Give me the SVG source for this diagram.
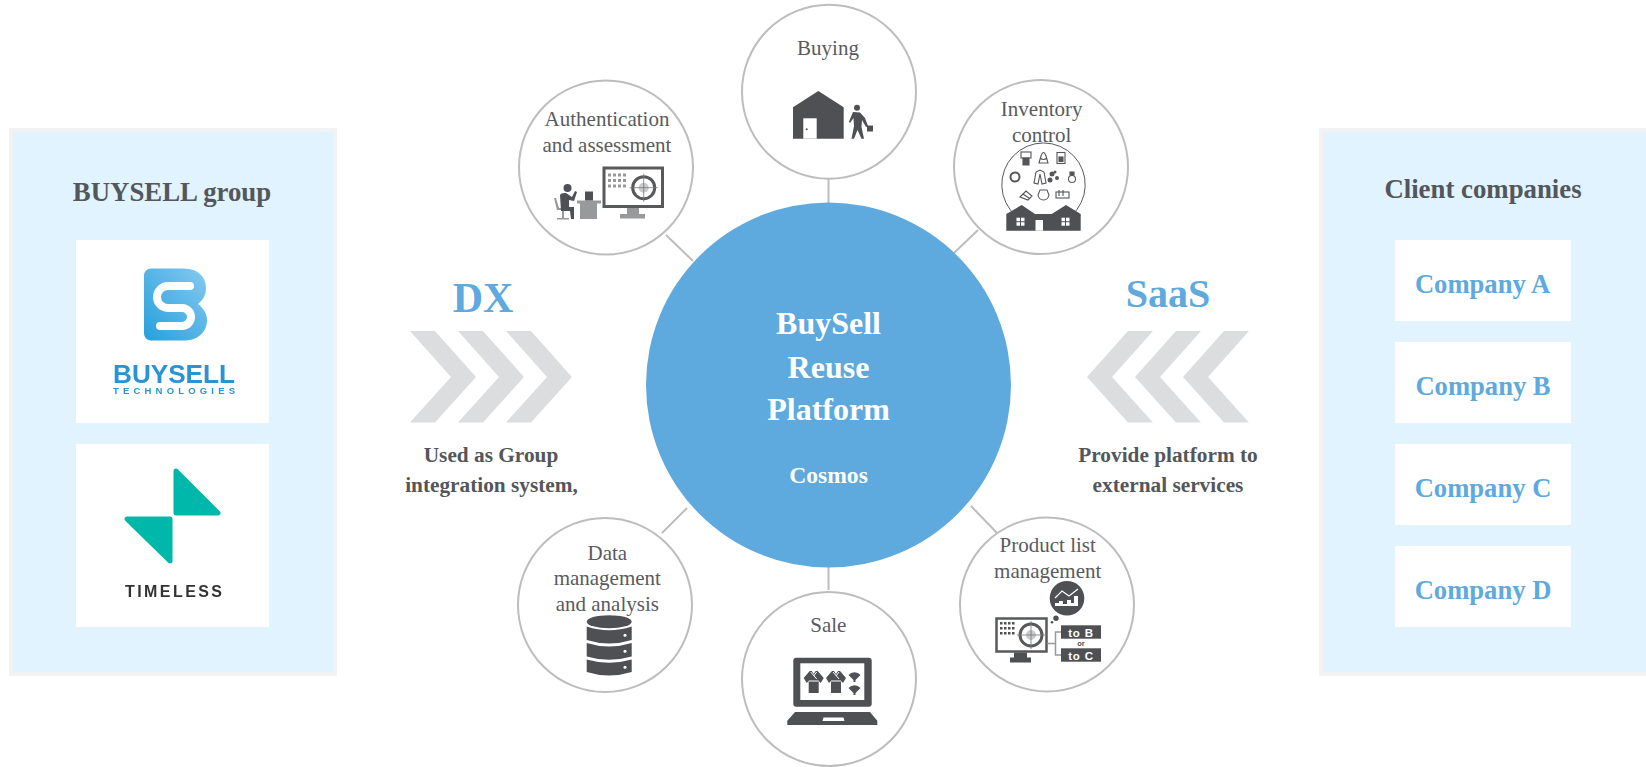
<svg xmlns="http://www.w3.org/2000/svg" xmlns:xlink="http://www.w3.org/1999/xlink" width="1646" height="767" viewBox="0 0 1646 767">
<style>
text{font-family:"Liberation Serif","Times New Roman",serif;text-anchor:middle}
.panel{fill:#e0f3fe;stroke:#f2f2f2;stroke-width:4}
.box{fill:#fff}
.ttl{font-size:26.800px;font-weight:700;fill:#53565a}
.co{font-size:26.600px;font-weight:700;fill:#5ea9de}
.big{font-weight:700;fill:#5ea9de}
.sub{font-size:21.300px;font-weight:700;fill:#53565a}
.lbl{font-size:21px;fill:#585b60}
.hub{font-weight:700;fill:#fff}
.node{fill:#fff;stroke:#bdbdbd;stroke-width:2}
.con{stroke:#bdbdbd;stroke-width:2;fill:none}
.chev{fill:#dcddde}
.ic{fill:#4f5053}
.gy{fill:#98999b}
.ol{fill:none;stroke:#55565a;stroke-width:1.100}
.sans{font-family:"Liberation Sans",Arial,sans-serif;font-weight:700}
</style>
<defs>
<filter id="soft" x="-5%" y="-5%" width="110%" height="110%"><feGaussianBlur stdDeviation="0.500"/></filter>
<linearGradient id="bs" x1="0" y1="1" x2="1" y2="0"><stop offset="0" stop-color="#25a0dc"/><stop offset="1" stop-color="#86c9f0"/></linearGradient>
<polygon id="ch" class="chev" points="0,0 25,0 66,46 25,91.500 0,91.500 41,46"/>
<g id="kimono"><path class="ic" d="M-4 0 L-2 0 L0 3 L2 0 L4 0 L10 7 L7 12 L5 10 L5 22 L-5 22 L-5 10 L-7 12 L-10 7Z"/><path d="M-5 10 H5 M-3 1 L3 8 M3 1 L0 5" stroke="#fff" stroke-width="1" fill="none"/></g>
<g id="fan"><path class="ic" d="M-6 -1 A8 8 0 0 1 6 -1 L1 4 V6 H-1 V4Z"/></g>
<g id="cross"><circle r="11" fill="#fff" stroke="#58595b" stroke-width="3"/><circle r="5" fill="#c9cacc"/><path d="M-14 0H14M0 -14V14" stroke="#777" stroke-width="0.800"/></g>
<g id="win"><rect x="-4" y="-4" width="3.500" height="3.500" fill="#fff"/><rect x="0.500" y="-4" width="3.500" height="3.500" fill="#fff"/><rect x="-4" y="0.500" width="3.500" height="3.500" fill="#fff"/><rect x="0.500" y="0.500" width="3.500" height="3.500" fill="#fff"/></g>
</defs>

<g id="connectors">
<path class="con" d="M828.500 179V203"/>
<path class="con" d="M666 235L693 261"/>
<path class="con" d="M978 230L954 253"/>
<path class="con" d="M971 506L997 533"/>
<path class="con" d="M662 533L687 508"/>
<path class="con" d="M828.500 566V590"/>
</g>

<g id="group-panel">
<rect class="panel" x="11" y="130" width="324" height="544"/>
<text class="ttl" x="172" y="200.500">BUYSELL group</text>
<rect class="box" x="76" y="240" width="193" height="183"/>
<g filter="url(#soft)">
<path fill="url(#bs)" d="M151 268.500H184C198 268.500 206 277 206 288C206 296 202 301 198 304C203 308 207 313 207 320C207 332 198 340.500 184 340.500H151A7 7 0 0 1 144 333.500V275.500A7 7 0 0 1 151 268.500Z"/>
<path d="M190 286H168A11 11 0 0 0 168 308H182A9 9 0 0 1 182 326H160" fill="none" stroke="#fff" stroke-width="8" stroke-linecap="round"/>
<text class="sans" x="174" y="382.500" font-size="25.500" fill="#2a93d5" textLength="122" lengthAdjust="spacingAndGlyphs">BUYSELL</text>
<text class="sans" x="174" y="393.500" font-size="9.500" fill="#2a93d5" textLength="122">TECHNOLOGIES</text>
</g>
<rect class="box" x="76" y="444" width="193" height="183"/>
<g filter="url(#soft)">
<path fill="#00b8a9" stroke="#00b8a9" stroke-width="5" stroke-linejoin="round" d="M176 471L218 513H176Z"/>
<path fill="#00b8a9" stroke="#00b8a9" stroke-width="5" stroke-linejoin="round" d="M127 519H170V561Z"/>
<text class="sans" x="173.500" y="596.500" font-size="16" fill="#333" textLength="97">TIMELESS</text>
</g>
</g>

<g id="client-panel">
<rect class="panel" x="1321" y="130" width="329" height="544"/>
<text class="ttl" x="1483" y="198.300">Client companies</text>
<rect class="box" x="1395" y="240" width="176" height="81"/>
<text class="co" x="1482.500" y="293.300">Company A</text>
<rect class="box" x="1395" y="342" width="176" height="81"/>
<text class="co" x="1483" y="395">Company B</text>
<rect class="box" x="1395" y="444" width="176" height="81"/>
<text class="co" x="1483" y="497">Company C</text>
<rect class="box" x="1395" y="546" width="176" height="81"/>
<text class="co" x="1483" y="599">Company D</text>
</g>

<g id="dx">
<text class="big" x="483" y="312.300" font-size="42">DX</text>
<use xlink:href="#ch" href="#ch" x="410" y="331"/>
<use xlink:href="#ch" href="#ch" x="458" y="331"/>
<use xlink:href="#ch" href="#ch" x="506" y="331"/>
<text class="sub" x="491" y="461.700">Used as Group</text>
<text class="sub" x="491.500" y="492.300">integration system,</text>
</g>

<g id="saas">
<text class="big" x="1168" y="307" font-size="40">SaaS</text>
<g transform="translate(2336,0) scale(-1,1)">
<use xlink:href="#ch" href="#ch" x="1087" y="331"/>
<use xlink:href="#ch" href="#ch" x="1135" y="331"/>
<use xlink:href="#ch" href="#ch" x="1183" y="331"/>
</g>
<text class="sub" x="1168" y="461.700">Provide platform to</text>
<text class="sub" x="1168" y="492.300">external services</text>
</g>

<g id="hub">
<circle cx="828.500" cy="385" r="182.500" fill="#5ea9de"/>
<text class="hub" x="828.500" y="334" font-size="32">BuySell</text>
<text class="hub" x="828.500" y="377.500" font-size="32">Reuse</text>
<text class="hub" x="828.500" y="420" font-size="32">Platform</text>
<text class="hub" x="828.500" y="483" font-size="23.600">Cosmos</text>
</g>

<g id="node-buying">
<circle class="node" cx="829" cy="91.700" r="87"/>
<text class="lbl" x="828" y="55">Buying</text>
<path class="ic" d="M793 107.300L818.300 91L843.700 107.300V138.700H793Z"/>
<rect x="803.300" y="118.300" width="13.400" height="20.400" fill="#fff"/>
<circle cx="806.700" cy="129.300" r="1" class="ic"/>
<circle cx="857" cy="107.700" r="3" class="ic"/>
<path class="ic" d="M853 112L860 112.500L865 118L868 126L866 127L862 120L861.500 127L864 138.700H861.500L857.500 130L854 138.700H851.500L854 126L853.500 118L850 123L849 121.500Z"/>
<rect class="ic" x="867" y="125.500" width="6" height="6"/>
</g>

<g id="node-auth">
<circle class="node" cx="606" cy="167.500" r="87"/>
<text class="lbl" x="607" y="126">Authentication</text>
<text class="lbl" x="607" y="151.700">and assessment</text>
<rect x="604" y="168" width="58.500" height="38.500" fill="#fff" stroke="#58595b" stroke-width="3"/>
<g class="gy">
<rect x="608" y="173.500" width="3" height="3"/><rect x="613" y="173.500" width="3" height="3"/><rect x="618" y="173.500" width="3" height="3"/><rect x="623" y="173.500" width="3" height="3"/>
<rect x="608" y="179" width="3" height="3"/><rect x="613" y="179" width="3" height="3"/><rect x="618" y="179" width="3" height="3"/><rect x="623" y="179" width="3" height="3"/>
<rect x="608" y="184.500" width="3" height="3"/><rect x="613" y="184.500" width="3" height="3"/><rect x="618" y="184.500" width="3" height="3"/><rect x="623" y="184.500" width="3" height="3"/>
<path d="M627 208H639V214H645V218.500H620V214H627Z"/>
<rect x="577" y="200.500" width="24" height="3"/>
<rect x="580" y="203" width="17" height="16"/>
<path d="M554 198L556 198L559 208H570V210H564V218H569V219.500H557V218H562V210H557Z"/>
</g>
<use xlink:href="#cross" href="#cross" x="643.700" y="187.700"/>
<rect class="ic" x="585" y="191.500" width="8" height="9"/>
<circle class="ic" cx="567.500" cy="188" r="4"/>
<path class="ic" d="M560 195Q561 192.500 566 193L572 197L575 191L577 192L574 201L569 200L569 207H574L574 219H571L570 211H561Z"/>
</g>

<g id="node-inventory">
<circle class="node" cx="1041" cy="167" r="87"/>
<text class="lbl" x="1041.700" y="116">Inventory</text>
<text class="lbl" x="1041.700" y="141.700">control</text>
<path d="M1016 216A41.700 41.700 0 1 1 1071 216" fill="none" stroke="#58595b" stroke-width="1"/>
<g class="ol">
<rect x="1021" y="152" width="10" height="6"/><path d="M1023 158H1029V165H1023Z" fill="#55565a"/>
<path d="M1039 163L1041 156Q1043.500 149 1046 156L1048 163Z"/><path d="M1040 158Q1043.500 161 1047 158"/>
<rect x="1057" y="152.500" width="8" height="11"/><rect x="1059" y="157" width="4" height="4.500" fill="#55565a"/>
<circle cx="1015" cy="177" r="4.500" stroke-width="2"/>
<path d="M1034 183L1036 172L1040 170L1044 172L1046 183L1042 184L1040 174L1038 184Z"/>
<circle cx="1072" cy="179" r="3.500"/><rect x="1070" y="172" width="4" height="3" fill="#55565a"/>
<path d="M1020 197L1026 191L1032 196L1028 200ZM1023 194L1029 198"/>
<path d="M1040 190H1047L1049 195Q1048 200 1043.500 200Q1039 200 1038 195Z"/>
<rect x="1056" y="192" width="13" height="6"/><path d="M1059 190V196M1063 190V196"/>
</g>
<g fill="#55565a"><circle cx="1052" cy="174" r="2.500"/><circle cx="1057" cy="178" r="2"/><circle cx="1050" cy="180" r="2.500"/><circle cx="1055" cy="172" r="1.500"/></g>
<path class="ic" d="M1006.300 214L1021.700 205L1035 214H1051.700L1066 205L1080.700 214V230.700H1006.300Z"/>
<use xlink:href="#win" href="#win" x="1020.500" y="221.700"/>
<use xlink:href="#win" href="#win" x="1065.500" y="221.700"/>
<rect x="1035.500" y="220" width="7.500" height="10.700" fill="#fff"/>
</g>

<g id="node-product">
<circle class="node" cx="1047" cy="604.500" r="87"/>
<text class="lbl" x="1047.700" y="552.300">Product list</text>
<text class="lbl" x="1047.700" y="578.300">management</text>
<circle class="ic" cx="1067" cy="598.300" r="17.300"/>
<path d="M1055 598L1062 591L1069 596L1078 589" fill="none" stroke="#fff" stroke-width="1.200"/>
<path d="M1055 606V603H1059V601H1063V604H1067V600H1071V603H1074V596H1078V606Z" fill="#fff"/>
<circle class="ic" cx="1056" cy="618.300" r="2.700"/>
<circle class="ic" cx="1052" cy="622.300" r="1.300"/>
<rect x="996.500" y="618.500" width="50" height="33" fill="#fff" stroke="#58595b" stroke-width="2.500"/>
<g class="ic">
<rect x="1000" y="622" width="2.500" height="2.500"/><rect x="1004" y="622" width="2.500" height="2.500"/><rect x="1008" y="622" width="2.500" height="2.500"/><rect x="1012" y="622" width="2.500" height="2.500"/>
<rect x="1000" y="627" width="2.500" height="2.500"/><rect x="1004" y="627" width="2.500" height="2.500"/><rect x="1008" y="627" width="2.500" height="2.500"/><rect x="1012" y="627" width="2.500" height="2.500"/>
<rect x="1000" y="632" width="2.500" height="2.500"/><rect x="1004" y="632" width="2.500" height="2.500"/><rect x="1008" y="632" width="2.500" height="2.500"/><rect x="1012" y="632" width="2.500" height="2.500"/>
<path d="M1014 652.500H1027V657.500H1031V662.500H1010V657.500H1014Z"/>
</g>
<use xlink:href="#cross" href="#cross" x="1031" y="635"/>
<path d="M1047.500 643.500H1055.500M1061 632H1055.500V655H1061" fill="none" stroke="#98999b" stroke-width="1.500"/>
<rect class="ic" x="1061" y="625.300" width="40" height="13.400"/>
<rect class="ic" x="1061" y="648.300" width="40" height="13.400"/>
<text class="sans" x="1081" y="636.500" font-size="11.500" fill="#fff" letter-spacing="0.800">to B</text>
<text class="sans" x="1081" y="646.200" font-size="7.500" fill="#4f5053">or</text>
<text class="sans" x="1081" y="659.500" font-size="11.500" fill="#fff" letter-spacing="0.800">to C</text>
</g>

<g id="node-data">
<circle class="node" cx="605" cy="605" r="87"/>
<text class="lbl" x="607.300" y="560">Data</text>
<text class="lbl" x="607.300" y="585.300">management</text>
<text class="lbl" x="607.300" y="610.700">and analysis</text>
<ellipse class="ic" cx="609.200" cy="621.700" rx="22.500" ry="6.500"/>
<path class="ic" d="M586.700 626.500Q609 634 631.700 626.500V640Q609 647 586.700 640Z"/>
<path class="ic" d="M586.700 643Q609 650 631.700 643V656.500Q609 663 586.700 656.500Z"/>
<path class="ic" d="M586.700 659.500Q609 666 631.700 659.500V672Q609 679 586.700 672Z"/>
<circle cx="625" cy="635.300" r="1.500" fill="#fff"/>
<circle cx="625" cy="651.300" r="1.500" fill="#fff"/>
<circle cx="625" cy="667.300" r="1.500" fill="#fff"/>
</g>

<g id="node-sale">
<circle class="node" cx="829" cy="679" r="87"/>
<text class="lbl" x="828.300" y="631.700">Sale</text>
<rect class="ic" x="793.300" y="657.700" width="78.400" height="49" rx="3"/>
<rect x="800.300" y="663.300" width="64" height="36.700" fill="#fff"/>
<use xlink:href="#kimono" href="#kimono" x="813.700" y="671"/>
<use xlink:href="#kimono" href="#kimono" x="836" y="671"/>
<use xlink:href="#fan" href="#fan" x="854.500" y="676"/>
<use xlink:href="#fan" href="#fan" x="854.500" y="689"/>
<path class="ic" d="M787.300 720.700L795 712H870L877.300 720.700V725H787.300Z"/>
<path d="M823.500 717.500H843.500L844.500 721H822.500Z" fill="#fff"/>
</g>
</svg>
